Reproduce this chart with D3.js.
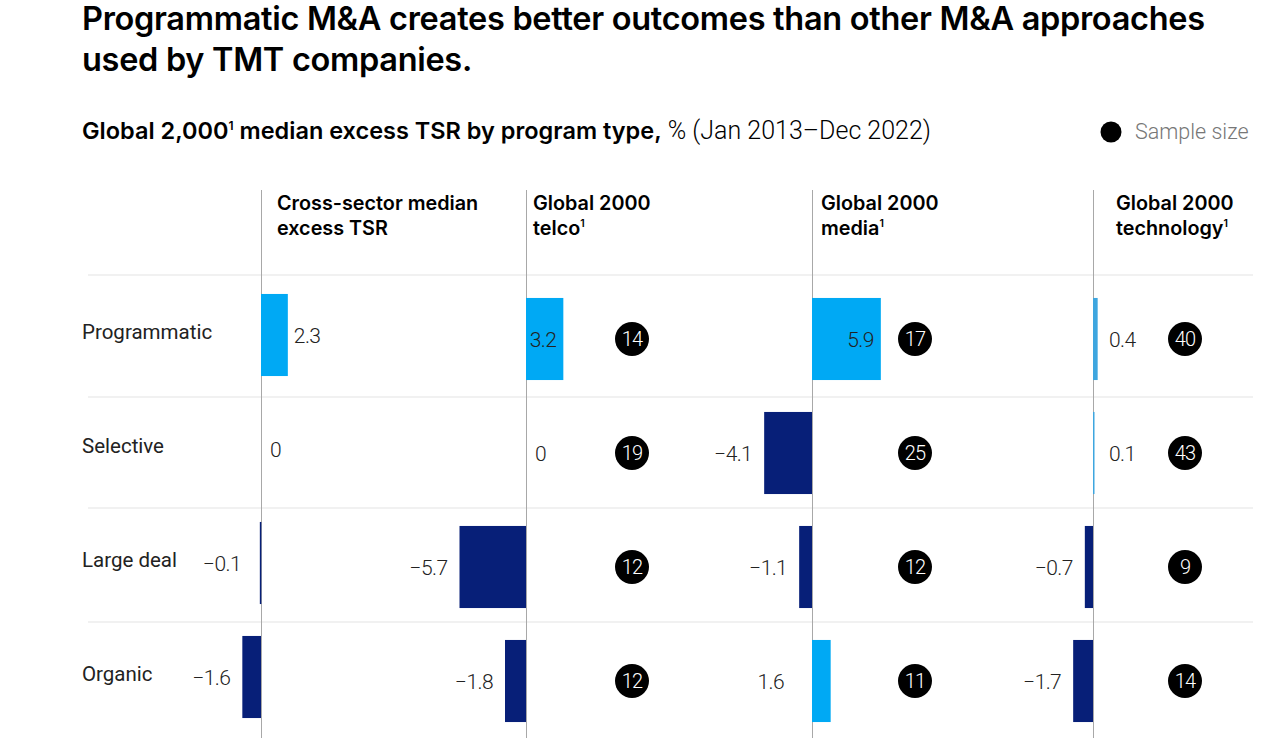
<!DOCTYPE html>
<html><head><meta charset="utf-8">
<script src="https://cdn.jsdelivr.net/npm/d3@7"></script>
<style>
html,body{margin:0;padding:0;background:#fff;}
svg{display:block;}
</style></head>
<body>
<svg id="chart" width="1282" height="738"></svg>
<script>
const categories = ["Programmatic", "Selective", "Large deal", "Organic"];
const panelTitles = [["Cross-sector median", "excess TSR"], ["Global 2000", "telco"], ["Global 2000", "media"], ["Global 2000", "technology"]];
const panelSup = [false, true, true, true];
const crossValues = [2.3, 0, -0.1, -1.6];
const telcoValues = [3.2, 0, -5.7, -1.8];
const mediaValues = [5.9, -4.1, -1.1, 1.6];
const techValues = [0.4, 0.1, -0.7, -1.7];
const telcoSample = [14, 19, 12, 12];
const mediaSample = [17, 25, 12, 11];
const techSample = [40, 43, 9, 14];

const panels = [
  {values: crossValues, sample: null, axisX: 261, circleX: null, dy: -4, posColor: "#00a9f4"},
  {values: telcoValues, sample: telcoSample, axisX: 526, circleX: 632, dy: 0, posColor: "#00a9f4"},
  {values: mediaValues, sample: mediaSample, axisX: 812, circleX: 915, dy: 0, posColor: "#00a9f4"},
  {values: techValues, sample: techSample, axisX: 1093, circleX: 1185, dy: 0, posColor: "#3ea6df"}
];
const negColor = "#071f78";
const numFont = "Roboto, 'Liberation Sans', sans-serif";
const boldFont = "Inter, 'Liberation Sans', sans-serif";

const svg = d3.select("#chart");

// Title
const title = svg.append("text").attr("font-family", boldFont).attr("font-weight", 600)
  .attr("font-size", 32.5).attr("fill", "#000").attr("letter-spacing", "-0.3");
title.append("tspan").attr("x", 82).attr("y", 30).text("Programmatic M&A creates better outcomes than other M&A approaches");
title.append("tspan").attr("x", 82).attr("y", 71).text("used by TMT companies.");

// Subtitle
const sub = svg.append("text").attr("x", 82).attr("y", 139).attr("font-family", boldFont).attr("font-size", 23.5).attr("fill", "#000");
sub.append("tspan").attr("font-weight", 600).text("Global 2,000");
sub.append("tspan").attr("font-weight", 600).attr("font-size", 12).attr("dy", -9).text("1");
sub.append("tspan").attr("font-weight", 600).attr("dy", 9).text(" median excess TSR by program type,");
sub.append("tspan").attr("font-weight", 300).attr("font-family", numFont).attr("font-size", 25).text(" % (Jan 2013\u2013Dec 2022)");

// Legend
svg.append("circle").attr("cx", 1111).attr("cy", 132).attr("r", 10.5).attr("fill", "#000");
svg.append("text").attr("x", 1135).attr("y", 139).attr("font-family", numFont).attr("font-size", 21.5)
  .attr("font-weight", 300).attr("fill", "#777").text("Sample size");

// Row scale
const y = d3.scaleBand().domain(categories).range([282, 738]).paddingInner(0.28).paddingOuter(0.14);
const rowCenter = c => y(c) + y.bandwidth() / 2;

// Separators
const sepY = [275, 397, 508, 622];
svg.selectAll("line.sep").data(sepY).enter().append("line")
  .attr("x1", 88).attr("x2", 1253).attr("y1", d => d).attr("y2", d => d)
  .attr("stroke", "#e3e3e3").attr("stroke-width", 1);

// Row labels
svg.selectAll("text.row").data(categories).enter().append("text")
  .attr("x", 82).attr("y", c => rowCenter(c))
  .attr("font-family", numFont).attr("font-size", 20.5).attr("fill", "#222")
  .text(d => d);

// value scale (pixels per unit relative to axis)
const xv = d3.scaleLinear().domain([-6, 6]).range([-70, 70]);

panels.forEach((p, pi) => {
  svg.append("line").attr("x1", p.axisX + 0.5).attr("x2", p.axisX + 0.5).attr("y1", 190).attr("y2", 738)
    .attr("stroke", "#a8a8a8").attr("stroke-width", 1);
  const hx = p.axisX + 16 - (pi === 1 ? 9 : 0) + (pi === 2 ? -7 : 0) + (pi === 3 ? 7 : 0);
  const ht = svg.append("text").attr("font-family", boldFont).attr("font-weight", 600)
    .attr("font-size", 19.8).attr("fill", "#000");
  ht.append("tspan").attr("x", hx).attr("y", 210).text(panelTitles[pi][0]);
  ht.append("tspan").attr("x", hx).attr("y", 235).text(panelTitles[pi][1]);
  if (panelSup[pi]) {
    ht.append("tspan").attr("font-size", 10.5).attr("dy", -8).text("1");
  }

  const g = svg.append("g").attr("transform", `translate(${p.axisX},${p.dy})`);
  const data = p.values.map((v, i) => ({v, c: categories[i], n: p.sample ? p.sample[i] : null, i}));

  g.selectAll("rect").data(data.filter(d => d.v !== 0)).enter().append("rect")
    .attr("x", d => Math.min(xv(0), xv(d.v)))
    .attr("width", d => Math.max(1.5, Math.abs(xv(d.v) - xv(0))))
    .attr("y", d => y(d.c))
    .attr("height", y.bandwidth())
    .attr("fill", d => d.v > 0 ? p.posColor : negColor);

  g.selectAll("text.val").data(data).enter().append("text")
    .attr("font-family", numFont).attr("font-weight", 300).attr("font-size", 21).attr("fill", "#222")
    .attr("letter-spacing", "-0.6")
    .attr("y", d => rowCenter(d.c) + 7.5)
    .each(function(d) {
      const t = d3.select(this);
      const w = Math.abs(xv(d.v) - xv(0));
      if (d.v === 0) {
        t.attr("x", 9).attr("text-anchor", "start");
      } else if (d.v > 0 && pi === 2 && d.i === 3) {
        t.attr("x", -28).attr("text-anchor", "end");
      } else if (d.v > 0 && w > 35) {
        t.attr("x", xv(d.v) - 7).attr("text-anchor", "end");
      } else if (d.v > 0) {
        t.attr("x", Math.max(xv(d.v), 10) + 6).attr("text-anchor", "start");
      } else {
        t.attr("x", Math.min(xv(d.v), -8) - 12).attr("text-anchor", "end");
      }
    })
    .text(d => d.v < 0 ? "\u2212" + d3.format(".1f")(-d.v) : (d.v === 0 ? "0" : d3.format(".1f")(d.v)));

  if (p.sample) {
    const cg = g.selectAll("g.circ").data(data).enter().append("g")
      .attr("transform", d => `translate(${p.circleX - p.axisX},${rowCenter(d.c)})`);
    cg.append("circle").attr("r", 17).attr("fill", "#000");
    cg.append("text").attr("text-anchor", "middle").attr("y", 7)
      .attr("font-family", numFont).attr("font-weight", 300).attr("font-size", 20).attr("fill", "#fff")
      .attr("letter-spacing", "-0.9")
      .text(d => d.n);
  }
});
</script>
</body></html>
